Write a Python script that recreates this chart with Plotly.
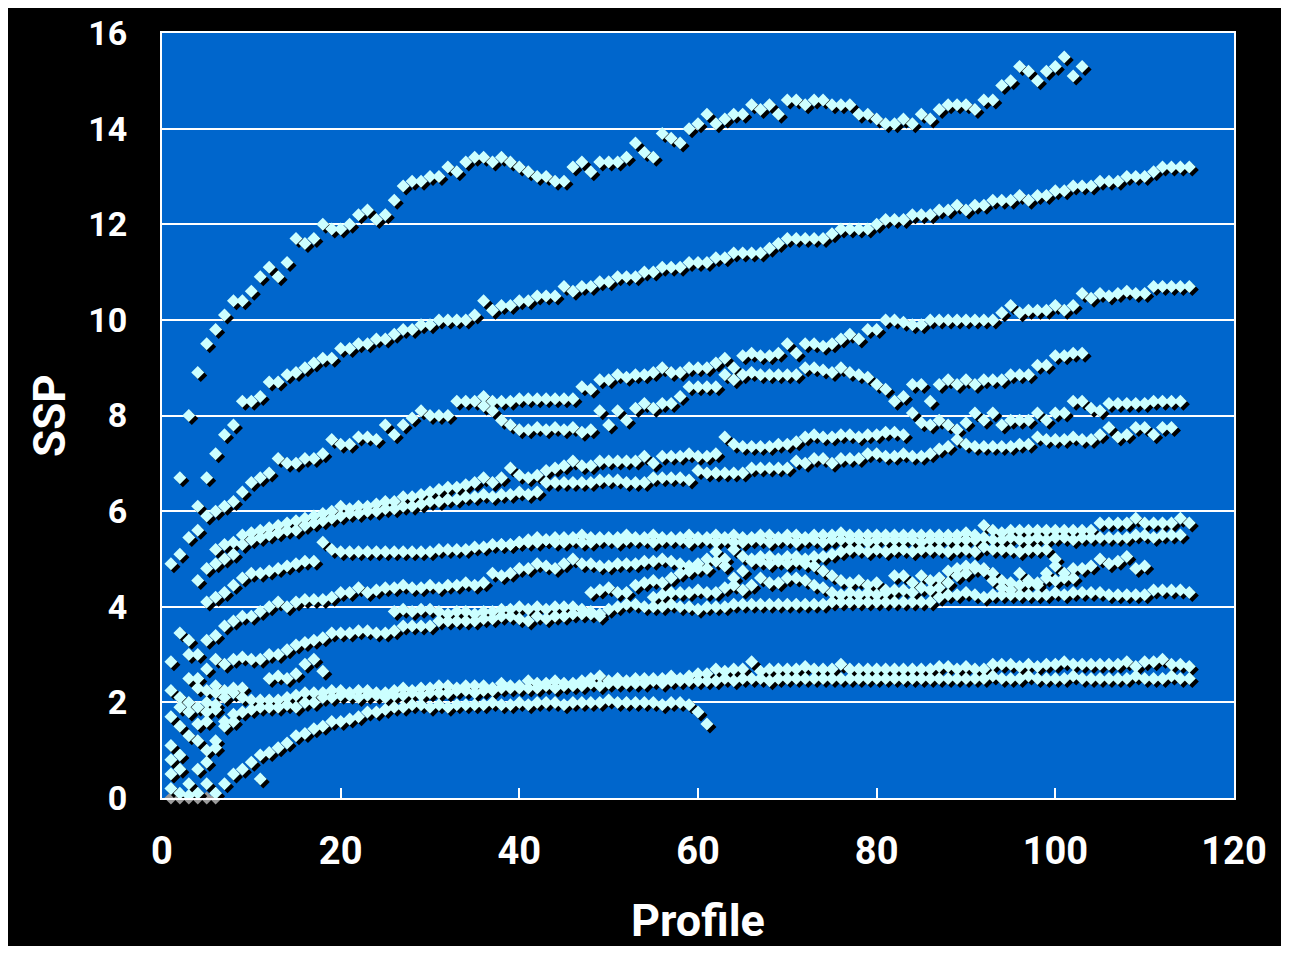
import plotly.graph_objects as go

# ---------------- data (SSP per profile, one list per series) ----------------
A_START = 2
A_SSP = [6.7, 8.0, 8.9, 9.5, 9.8, 10.1, 10.4, 10.4, 10.6, 10.9,
         11.1, 10.9, 11.2, 11.7, 11.6, 11.7, 12.0, 11.9, 11.9, 12.0,
         12.2, 12.3, 12.1, 12.2, 12.5, 12.8, 12.9, 12.9, 13.0, 13.0,
         13.2, 13.1, 13.3, 13.4, 13.4, 13.3, 13.4, 13.3, 13.2, 13.1,
         13.0, 13.0, 12.9, 12.9, 13.2, 13.3, 13.1, 13.3, 13.3, 13.3,
         13.4, 13.7, 13.5, 13.4, 13.9, 13.8, 13.7, 14.0, 14.1, 14.3,
         14.1, 14.2, 14.3, 14.3, 14.5, 14.4, 14.5, 14.3, 14.6, 14.6,
         14.5, 14.6, 14.6, 14.5, 14.5, 14.5, 14.3, 14.3, 14.2, 14.1,
         14.1, 14.2, 14.1, 14.3, 14.2, 14.4, 14.5, 14.5, 14.5, 14.4,
         14.6, 14.6, 14.9, 15.0, 15.3, 15.2, 15.0, 15.2, 15.3, 15.5,
         15.1, 15.3]

B_START = 4
B_SSP = [6.1, 6.7, 7.2, 7.6, 7.8, 8.3, 8.3, 8.4, 8.7, 8.7,
         8.85, 8.9, 9.0, 9.1, 9.2, 9.2, 9.4, 9.4, 9.5, 9.5,
         9.6, 9.6, 9.7, 9.8, 9.8, 9.9, 9.9, 10.0, 10.0, 10.0,
         10.0, 10.1, 10.4, 10.2, 10.3, 10.3, 10.4, 10.4, 10.5, 10.5,
         10.5, 10.7, 10.6, 10.7, 10.7, 10.8, 10.8, 10.9, 10.9, 10.9,
         11.0, 11.0, 11.1, 11.1, 11.1, 11.2, 11.2, 11.2, 11.3, 11.3,
         11.4, 11.4, 11.4, 11.4, 11.5, 11.6, 11.7, 11.7, 11.7, 11.7,
         11.7, 11.8, 11.9, 11.9, 11.9, 11.9, 12.0, 12.1, 12.1, 12.1,
         12.2, 12.2, 12.2, 12.3, 12.3, 12.4, 12.3, 12.4, 12.4, 12.5,
         12.5, 12.5, 12.6, 12.5, 12.6, 12.6, 12.7, 12.7, 12.8, 12.8,
         12.8, 12.9, 12.9, 12.9, 13.0, 13.0, 13.0, 13.1, 13.2, 13.2,
         13.2, 13.2]

C_START = 1
C_SSP = [4.9, 5.1, 5.45, 5.6, 5.9, 6.0, 6.1, 6.2, 6.4, 6.6,
         6.7, 6.8, 7.1, 7.0, 7.0, 7.1, 7.1, 7.2, 7.5, 7.4,
         7.4, 7.55, 7.55, 7.5, 7.8, 7.6, 7.8, 7.95, 8.1, 8.0,
         8.0, 8.0, 8.3, 8.3, 8.3, 8.4, 8.3, 8.3, 8.3, 8.35,
         8.35, 8.35, 8.35, 8.35, 8.35, 8.35, 8.6, 8.55, 8.75, 8.75,
         8.85, 8.8, 8.85, 8.85, 8.9, 9.0, 8.9, 8.9, 9.0, 9.0,
         9.0, 9.1, 9.2, 9.0, 9.25, 9.3, 9.25, 9.25, 9.3, 9.5,
         9.3, 9.5, 9.5, 9.45, 9.5, 9.6, 9.7, 9.6, 9.8, 9.8,
         10.0, 10.0, 9.95, 9.9, 9.9, 10.0, 10.0, 10.0, 10.0, 10.0,
         10.0, 10.0, 10.0, 10.15, 10.3, 10.15, 10.2, 10.2, 10.2, 10.3,
         10.2, 10.3, 10.55, 10.45, 10.55, 10.5, 10.55, 10.6, 10.55, 10.55,
         10.7, 10.7, 10.7, 10.7, 10.7]

D_START = 36
D_SSP = [8.2, 8.1, 7.9, 7.8, 7.7, 7.7, 7.75, 7.7, 7.75, 7.7,
         7.75, 7.65, 7.7, 8.1, 7.8, 8.1, 7.9, 8.15, 8.25, 8.15,
         8.25, 8.25, 8.4, 8.6, 8.6, 8.6, 8.6, 8.85, 8.75, 8.85,
         8.9, 8.85, 8.85, 8.85, 8.85, 8.85, 9.0, 9.0, 8.95, 8.9,
         9.0, 8.9, 8.85, 8.8, 8.65, 8.55, 8.3, 8.4, 8.65, 8.65,
         8.3, 8.65, 8.75, 8.65, 8.75, 8.65, 8.75, 8.75, 8.75, 8.85,
         8.85, 8.85, 9.05, 9.05, 9.25, 9.25, 9.3, 9.3]

E_START = 4
E_SSP = [4.55, 4.8, 5.2, 5.3, 5.35, 5.5, 5.55, 5.6, 5.65, 5.7,
         5.75, 5.8, 5.85, 5.9, 5.95, 6.0, 6.1, 6.05, 6.1, 6.1,
         6.15, 6.2, 6.2, 6.3, 6.3, 6.35, 6.4, 6.45, 6.5, 6.5,
         6.55, 6.6, 6.7, 6.6, 6.7, 6.9, 6.75, 6.7, 6.75, 6.85,
         6.9, 6.95, 7.05, 6.95, 6.95, 7.05, 7.05, 7.05, 7.05, 7.05,
         7.15, 7.0, 7.15, 7.15, 7.15, 7.2, 7.15, 7.15, 7.2, 7.55,
         7.4, 7.35, 7.35, 7.35, 7.35, 7.4, 7.4, 7.45, 7.55, 7.6,
         7.55, 7.55, 7.6, 7.6, 7.55, 7.6, 7.6, 7.65, 7.65, 7.6,
         8.05, 7.85, 7.8, 7.9, 7.8, 7.7, 7.85, 8.05, 7.9, 8.05,
         7.8, 7.9, 7.9, 7.9, 8.05, 7.9, 8.05, 8.05, 8.3, 8.3,
         8.15, 8.1, 8.25, 8.25, 8.25, 8.25, 8.25, 8.3, 8.3, 8.3,
         8.3]

F_START = 6
F_SSP = [4.9, 5.0, 5.1, 5.3, 5.4, 5.45, 5.5, 5.55, 5.6, 5.6,
         5.7, 5.75, 5.8, 5.85, 5.9, 5.95, 5.95, 6.0, 6.0, 6.05,
         6.05, 6.1, 6.1, 6.15, 6.2, 6.2, 6.25, 6.25, 6.3, 6.3,
         6.35, 6.3, 6.35, 6.35, 6.4, 6.35, 6.4, 6.6, 6.6, 6.6,
         6.6, 6.6, 6.6, 6.65, 6.65, 6.65, 6.6, 6.6, 6.6, 6.7,
         6.7, 6.7, 6.7, 6.65, 6.85, 6.8, 6.8, 6.8, 6.8, 6.8,
         6.9, 6.9, 6.9, 6.9, 6.9, 7.05, 7.0, 7.1, 7.1, 7.0,
         7.1, 7.1, 7.1, 7.2, 7.2, 7.15, 7.15, 7.2, 7.15, 7.15,
         7.2, 7.3, 7.35, 7.5, 7.4, 7.35, 7.35, 7.35, 7.35, 7.35,
         7.4, 7.4, 7.55, 7.5, 7.5, 7.5, 7.55, 7.5, 7.5, 7.6,
         7.75, 7.55, 7.6, 7.75, 7.75, 7.6, 7.75, 7.75]

G_START = 5
G_SSP = [4.1, 4.2, 4.3, 4.45, 4.6, 4.7, 4.7, 4.75, 4.8, 4.85,
         4.9, 4.95, 4.95, 5.35, 5.2, 5.15, 5.15, 5.15, 5.15, 5.15,
         5.15, 5.15, 5.15, 5.15, 5.15, 5.15, 5.2, 5.2, 5.2, 5.2,
         5.25, 5.25, 5.3, 5.3, 5.3, 5.35, 5.4, 5.45, 5.4, 5.45,
         5.45, 5.45, 5.5, 5.45, 5.45, 5.45, 5.45, 5.5, 5.45, 5.45,
         5.5, 5.45, 5.45, 5.45, 5.5, 5.45, 5.45, 5.5, 5.45, 5.5,
         5.45, 5.45, 5.5, 5.5, 5.45, 5.5, 5.5, 5.45, 5.5, 5.5,
         5.5, 5.55, 5.5, 5.5, 5.5, 5.5, 5.5, 5.5, 5.5, 5.5,
         5.5, 5.5, 5.5, 5.5, 5.5, 5.55, 5.5, 5.7, 5.6, 5.55,
         5.6, 5.6, 5.6, 5.6, 5.6, 5.6, 5.6, 5.6, 5.6, 5.6,
         5.75, 5.75, 5.75, 5.75, 5.85, 5.75, 5.75, 5.75, 5.75, 5.85,
         5.75]

H_START = 38
H_SSP = [5.3, 5.3, 5.35, 5.35, 5.35, 5.4, 5.35, 5.35, 5.4, 5.35,
         5.35, 5.4, 5.4, 5.35, 5.4, 5.4, 5.4, 5.35, 5.4, 5.4,
         5.4, 5.35, 5.4, 5.4, 5.35, 5.4, 5.35, 5.35, 5.4, 5.4,
         5.35, 5.4, 5.4, 5.35, 5.4, 5.4, 5.35, 5.4, 5.4, 5.4,
         5.4, 5.35, 5.4, 5.4, 5.4, 5.4, 5.4, 5.35, 5.4, 5.4,
         5.4, 5.4, 5.4, 5.4, 5.45, 5.4, 5.4, 5.45, 5.4, 5.4,
         5.45, 5.4, 5.45, 5.45, 5.4, 5.45, 5.45, 5.45, 5.45, 5.45,
         5.45, 5.5, 5.5, 5.45, 5.5, 5.5, 5.5]

I_START = 3
I_SSP = [3.0, 3.0, 3.3, 3.4, 3.6, 3.7, 3.8, 3.8, 3.9, 4.0,
         4.1, 4.0, 4.1, 4.15, 4.15, 4.15, 4.2, 4.3, 4.3, 4.4,
         4.3, 4.35, 4.4, 4.4, 4.45, 4.4, 4.4, 4.45, 4.4, 4.45,
         4.45, 4.5, 4.45, 4.5, 4.7, 4.65, 4.7, 4.8, 4.8, 4.9,
         4.85, 4.8, 4.9, 5.0, 4.9, 4.9, 4.85, 4.85, 4.9, 4.9,
         4.9, 4.95, 4.95, 5.0, 4.95, 4.9, 4.85, 4.9, 5.0, 5.15,
         5.0, 5.2, 5.05, 5.0, 5.05, 5.05, 5.0, 5.05, 5.05, 5.0,
         5.05, 5.05, 5.1, 5.15, 5.2, 5.2, 5.15, 5.2, 5.15, 5.2,
         5.2, 5.15, 5.2, 5.2, 5.2, 5.15, 5.2, 5.2, 5.15, 5.25,
         5.2, 5.2, 5.2, 5.15, 5.2, 5.2, 5.2, 5.0]

W1_START = 48
W1_SSP = [4.3, 4.35, 4.4, 4.3, 4.3, 4.45, 4.5, 4.55, 4.5, 4.6,
          4.7, 4.75, 4.8, 4.8, 4.95, 4.85, 4.6, 4.75, 4.95, 4.95,
          4.9, 4.95, 4.9, 4.95, 4.9, 4.85, 4.75, 4.65, 4.55, 4.5,
          4.55, 4.45, 4.5, 4.35, 4.65, 4.65, 4.5, 4.65, 4.55, 4.6,
          4.75, 4.8, 4.85, 4.85, 4.8, 4.7, 4.55, 4.5, 4.7, 4.55,
          4.5, 4.7, 4.85, 4.6, 4.8, 4.8, 4.85, 5.0, 4.9, 4.95,
          5.05, 4.8, 4.85]

W2_START = 55
W2_SSP = [4.2, 4.25, 4.3, 4.3, 4.3, 4.35, 4.3, 4.3, 4.4, 4.45,
          4.35, 4.45, 4.6, 4.5, 4.5, 4.6, 4.6, 4.55, 4.45, 4.4,
          4.3, 4.25, 4.3, 4.25, 4.3, 4.25, 4.3, 4.35, 4.35, 4.3,
          4.4, 4.35, 4.4, 4.5, 4.65, 4.7, 4.8, 4.75, 4.55, 4.4,
          4.35, 4.45, 4.5, 4.45, 4.6, 4.55, 4.7, 4.6]

J_START = 26
J_SSP = [3.9, 3.95, 3.9, 3.95, 3.95, 3.9, 3.85, 3.9, 3.9, 3.85,
         3.9, 3.9, 3.95, 3.95, 4.0, 3.95, 4.0, 3.95, 4.0, 4.0,
         4.0, 3.95, 3.9, 3.85, 3.95, 4.0, 4.05, 4.05, 4.0, 4.0,
         4.0, 4.05, 4.0, 4.0, 3.95, 4.0, 4.0, 4.0, 4.05, 4.05,
         4.05, 4.05, 4.05, 4.05, 4.05, 4.05, 4.05, 4.05, 4.05, 4.1,
         4.1, 4.1, 4.1, 4.1, 4.1, 4.1, 4.1, 4.1, 4.1, 4.1,
         4.1, 4.2, 4.25, 4.25, 4.3, 4.25, 4.2, 4.25, 4.25, 4.25,
         4.25, 4.25, 4.25, 4.25, 4.3, 4.25, 4.3, 4.3, 4.3, 4.3,
         4.25, 4.25, 4.25, 4.25, 4.25, 4.35, 4.35, 4.35, 4.35, 4.3]

N_START = 4
N_SSP = [2.5, 2.7, 2.9, 2.8, 2.9, 2.95, 2.9, 2.9, 3.0, 3.0,
         3.1, 3.2, 3.25, 3.3, 3.35, 3.45, 3.45, 3.45, 3.5, 3.5,
         3.45, 3.45, 3.5, 3.6, 3.6, 3.6, 3.6, 3.7, 3.7, 3.7,
         3.7, 3.7, 3.75, 3.75, 3.8, 3.8, 3.75, 3.7, 3.8, 3.75,
         3.8, 3.8, 3.85, 3.85, 3.85, 3.8]

T_START = 12
T_SSP = [2.5, 2.55, 2.5, 2.6, 2.8, 2.9, 2.65]

K_START = 1
K_SSP = [2.25, 2.1, 2.5, 2.3, 2.25, 2.35, 2.25, 2.3, 2.1, 2.05,
         2.05, 2.05, 2.05, 2.1, 2.15, 2.2, 2.2, 2.2, 2.25, 2.25,
         2.2, 2.25, 2.25, 2.2, 2.2, 2.25, 2.3, 2.25, 2.3, 2.3,
         2.35, 2.35, 2.3, 2.35, 2.35, 2.35, 2.3, 2.4, 2.35, 2.35,
         2.45, 2.4, 2.4, 2.45, 2.4, 2.4, 2.45, 2.5, 2.55, 2.45,
         2.5, 2.45, 2.5, 2.5, 2.5, 2.5, 2.55, 2.5, 2.55, 2.6,
         2.6, 2.7, 2.65, 2.7, 2.7, 2.85, 2.65, 2.7, 2.7, 2.7,
         2.7, 2.75, 2.7, 2.7, 2.7, 2.8, 2.7, 2.7, 2.7, 2.7,
         2.7, 2.7, 2.7, 2.7, 2.7, 2.7, 2.75, 2.75, 2.7, 2.75,
         2.7, 2.7, 2.8, 2.8, 2.8, 2.75, 2.8, 2.75, 2.8, 2.8,
         2.85, 2.8, 2.8, 2.8, 2.8, 2.8, 2.8, 2.85, 2.75, 2.85,
         2.85, 2.9, 2.8, 2.8, 2.75]

L_START = 5
L_SSP = [1.6, 1.85, 1.6, 1.75, 1.8, 1.85, 1.9, 1.9, 1.9, 1.95,
         1.9, 2.0, 2.0, 2.1, 2.1, 2.15, 2.15, 2.1, 2.15, 2.15,
         2.1, 2.15, 2.15, 2.2, 2.15, 2.2, 2.2, 2.2, 2.25, 2.25,
         2.2, 2.25, 2.25, 2.3, 2.3, 2.3, 2.3, 2.3, 2.35, 2.3,
         2.35, 2.35, 2.35, 2.4, 2.35, 2.4, 2.4, 2.4, 2.4, 2.4,
         2.45, 2.4, 2.45, 2.45, 2.45, 2.45, 2.45, 2.45, 2.5, 2.45,
         2.5, 2.5, 2.5, 2.45, 2.5, 2.5, 2.5, 2.5, 2.5, 2.5,
         2.5, 2.5, 2.5, 2.5, 2.5, 2.5, 2.5, 2.5, 2.5, 2.5,
         2.5, 2.5, 2.5, 2.5, 2.5, 2.5, 2.5, 2.5, 2.55, 2.5,
         2.5, 2.5, 2.55, 2.5, 2.5, 2.5, 2.5, 2.55, 2.5, 2.5,
         2.5, 2.5, 2.5, 2.5, 2.55, 2.5, 2.5, 2.5, 2.55, 2.5,
         2.5]

M_START = 7
M_SSP = [0.3, 0.5, 0.6, 0.75, 0.9, 0.95, 1.05, 1.15, 1.3, 1.35,
         1.45, 1.5, 1.6, 1.6, 1.65, 1.7, 1.8, 1.8, 1.85, 1.9,
         1.9, 1.95, 1.95, 1.9, 1.95, 1.9, 1.95, 1.95, 1.95, 1.95,
         2.0, 1.95, 1.95, 2.0, 1.95, 2.0, 2.0, 2.0, 1.95, 2.0,
         2.0, 2.0, 2.0, 2.05, 2.0, 2.0, 2.0, 2.0, 2.0, 1.95,
         2.0, 2.0, 1.95, 1.8, 1.55]

S1_START = 1
S1_SSP = [0.5, 0.9, 1.3, 1.55, 1.8, 1.95, 2.1, 2.2, 2.3]
S2_START = 1
S2_SSP = [0.8, 1.5, 1.8, 1.2, 1.0, 1.2, 1.5, 1.6]
S3_START = 1
S3_SSP = [1.1, 0.6, 0.3, 0.6, 0.75, 1.05]
S4_START = 1
S4_SSP = [1.7, 1.9, 2.0, 1.9, 2.0, 2.2]
S5_START = 1
S5_SSP = [0.2, 0.1, 0.05, 0.1, 0.3, 0.1]

EXTRA_PROFILE = [11, 1, 2, 3]
EXTRA_SSP = [0.4, 2.85, 3.45, 3.3]

ZERO_PROFILE = [1, 2, 3, 4, 5, 6]
ZERO_SSP = [0, 0, 0, 0, 0, 0]

X_TICKS = [0, 20, 40, 60, 80, 100, 120]
Y_TICKS = [0, 2, 4, 6, 8, 10, 12, 14, 16]
X_RANGE = [0, 120]
Y_RANGE = [0, 16]

SERIES = [
    (A_START, A_SSP), (B_START, B_SSP), (C_START, C_SSP), (D_START, D_SSP),
    (E_START, E_SSP), (F_START, F_SSP), (G_START, G_SSP), (H_START, H_SSP),
    (I_START, I_SSP), (W1_START, W1_SSP), (W2_START, W2_SSP), (J_START, J_SSP),
    (N_START, N_SSP), (T_START, T_SSP), (K_START, K_SSP), (L_START, L_SSP),
    (M_START, M_SSP), (S1_START, S1_SSP), (S2_START, S2_SSP), (S3_START, S3_SSP),
    (S4_START, S4_SSP), (S5_START, S5_SSP),
]

# ---------------- layout geometry / style ----------------
W, H = 1273, 938
ML, MR, MT, MB = 154, 47, 25, 148
plot_w = W - ML - MR
plot_h = H - MT - MB
SHADOW_PX = 3
dx = SHADOW_PX * (X_RANGE[1] - X_RANGE[0]) / plot_w
dy = SHADOW_PX * (Y_RANGE[1] - Y_RANGE[0]) / plot_h

BG_BLUE = "#0066CC"
CYAN = "#CCFFFF"
FONT = "Roboto, Liberation Sans, Arial, sans-serif"
MARKER_SIZE = 10

xs, ys = [], []
for start, vals in SERIES:
    xs.extend(range(start, start + len(vals)))
    ys.extend(vals)
xs.extend(EXTRA_PROFILE)
ys.extend(EXTRA_SSP)

fig = go.Figure()
# markers sitting on the zero line (lower half shows below the axis in grey)
fig.add_trace(go.Scatter(x=ZERO_PROFILE, y=ZERO_SSP, mode="markers", cliponaxis=False,
                         marker=dict(symbol="diamond", size=MARKER_SIZE, color="#9a9a9a"),
                         xaxis="x", yaxis="y", hoverinfo="skip"))
# drop shadow (same data on an axis pair shifted by a few pixels)
fig.add_trace(go.Scatter(x=xs, y=ys, mode="markers",
                         marker=dict(symbol="diamond", size=MARKER_SIZE, color="#000000"),
                         xaxis="x2", yaxis="y2", hoverinfo="skip"))
fig.add_trace(go.Scatter(x=xs, y=ys, mode="markers",
                         marker=dict(symbol="diamond", size=MARKER_SIZE, color=CYAN),
                         xaxis="x3", yaxis="y3"))

fig.update_layout(
    width=W, height=H,
    margin=dict(l=ML, r=MR, t=MT, b=MB, autoexpand=False),
    paper_bgcolor="#000000",
    plot_bgcolor=BG_BLUE,
    showlegend=False,
    xaxis=dict(range=X_RANGE, tickvals=X_TICKS, showgrid=False, zeroline=False,
               automargin=False,
               showline=True, linecolor="white", linewidth=2, mirror=True,
               ticks="inside", ticklen=10, tickwidth=2, tickcolor="white",
               ticklabelstandoff=18,
               tickfont=dict(family=FONT, size=38, color="white", weight="bold")),
    yaxis=dict(range=Y_RANGE, tickvals=Y_TICKS, showgrid=True, gridcolor="white",
               gridwidth=2, zeroline=False, showline=True, linecolor="white",
               automargin=False,
               linewidth=2, mirror=True, ticks="", ticklabelstandoff=26,
               tickfont=dict(family=FONT, size=34, color="white", weight="bold")),
    xaxis2=dict(range=[X_RANGE[0] - dx, X_RANGE[1] - dx], overlaying="x", visible=False),
    yaxis2=dict(range=[Y_RANGE[0] + dy, Y_RANGE[1] + dy], overlaying="y", visible=False),
    xaxis3=dict(range=X_RANGE, overlaying="x", visible=False),
    yaxis3=dict(range=Y_RANGE, overlaying="y", visible=False),
    annotations=[
        dict(text="Profile", xref="paper", yref="paper", x=0.5, y=-0.16,
             xanchor="center", yanchor="middle", showarrow=False,
             font=dict(family=FONT, size=45, color="white", weight="bold")),
        dict(text="SSP", xref="paper", yref="paper", x=-0.105, y=0.5, textangle=-90,
             xanchor="center", yanchor="middle", showarrow=False,
             font=dict(family=FONT, size=44, color="white", weight="bold")),
    ],
)

fig.write_html("out.html")
